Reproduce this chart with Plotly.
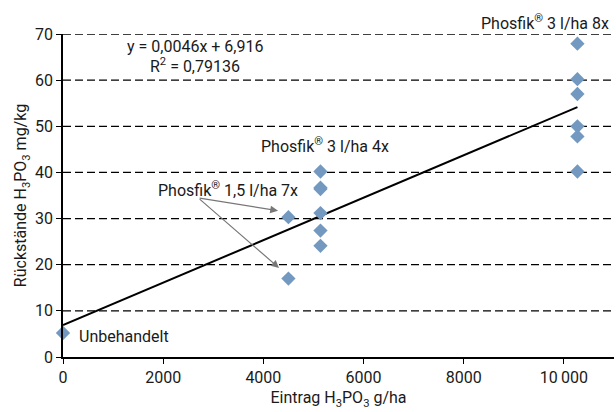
import plotly.graph_objects as go

# Data
x_vals = [0, 4500, 4500, 5140, 5140, 5140, 5140, 5140, 5140, 10270, 10270, 10270, 10270, 10270, 10270]
y_vals = [5.2, 30.3, 17.0, 40.2, 36.7, 36.4, 31.2, 27.4, 24.1, 67.9, 60.2, 57.0, 50.0, 47.8, 40.2]
slope = 0.0046
intercept = 6.916
x_ticks = [0, 2000, 4000, 6000, 8000, 10000]
x_tick_labels = ["0", "2000", "4000", "6000", "8000", "10\u2009000"]
y_ticks = [0, 10, 20, 30, 40, 50, 60, 70]

FONT = "Roboto, sans-serif"
TXT = "#1a1a1a"

fit_x = [min(x_vals), max(x_vals)]
fit_y = [slope * v + intercept for v in fit_x]

fig = go.Figure()
fig.add_trace(go.Scatter(x=fit_x, y=fit_y, mode="lines",
                         line=dict(color="black", width=2), showlegend=False, hoverinfo="skip"))
fig.add_trace(go.Scatter(x=x_vals, y=y_vals, mode="markers",
                         marker=dict(symbol="diamond", size=11, color="#7399c0"),
                         showlegend=False, cliponaxis=False))

for v in y_ticks[1:]:
    fig.add_shape(type="line", xref="paper", x0=0, x1=1, yref="y", y0=v, y1=v,
                  line=dict(color="black", width=1.3, dash="8px,4px"), layer="below")

ann = []
def t(x, y, s, xa="center", yref="y", xref="x"):
    ann.append(dict(x=x, y=y, xref=xref, yref=yref, text=s, showarrow=False,
                    xanchor=xa, yanchor="middle", font=dict(family=FONT, size=16, color=TXT)))

t(2640, 67.3, "y = 0,0046x + 6,916")
t(2640, 63.1, "R<sup>2</sup> = 0,79136")
t(9615, 1.037, "Phosfik<sup>®</sup> 3 l/ha 8x", yref="paper")
t(5230, 45.8, "Phosfik<sup>®</sup> 3 l/ha 4x")
t(3300, 36.4, "Phosfik<sup>®</sup> 1,5 l/ha 7x")
t(280, 4.5, "Unbehandelt", "left")

for (ex, ey) in [(4293, 31.7), (4313, 19.3)]:
    ann.append(dict(x=ex, y=ey, xref="x", yref="y", ax=2698, ay=34.5, axref="x", ayref="y",
                    text="", showarrow=True, arrowhead=2, arrowsize=1.3, arrowwidth=1.2,
                    arrowcolor="#777777"))

fig.update_layout(
    width=616, height=412, margin=dict(l=63, r=2, t=34, b=55),
    paper_bgcolor="white", plot_bgcolor="white",
    font=dict(family=FONT, size=16, color=TXT),
    annotations=ann,
    xaxis=dict(range=[0, 11000], tickvals=x_ticks, ticktext=x_tick_labels,
               showgrid=False, zeroline=False, showline=True, linecolor="black", linewidth=1.5,
               ticks="outside", ticklen=5, tickcolor="black",
               title=dict(text="Eintrag H<sub>3</sub>PO<sub>3</sub> g/ha", standoff=6,
                          font=dict(family=FONT, size=16, color=TXT)),
               tickfont=dict(family=FONT, size=16, color=TXT)),
    yaxis=dict(range=[0, 70], tickvals=y_ticks, showgrid=False, zeroline=False,
               showline=True, linecolor="black", linewidth=1.5,
               ticks="outside", ticklen=5, tickcolor="black",
               title=dict(text="Rückstände H<sub>3</sub>PO<sub>3</sub> mg/kg", standoff=4,
                          font=dict(family=FONT, size=16, color=TXT)),
               tickfont=dict(family=FONT, size=16, color=TXT)),
)
fig.write_html("out.html")
